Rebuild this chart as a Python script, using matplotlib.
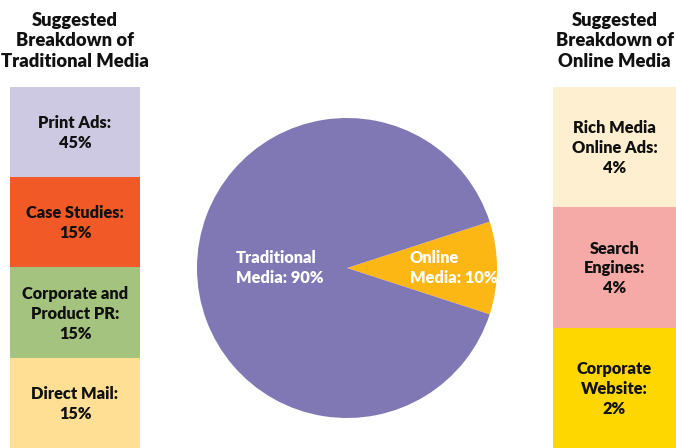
import matplotlib
matplotlib.use("Agg")
import matplotlib.pyplot as plt

# ---------------------------------------------------------------------------
# Data
# ---------------------------------------------------------------------------
split_labels = ["Online\nMedia: 10%", "Traditional\nMedia: 90%"]
split_values = [10, 90]
split_colors = ["#FDB714", "#8078B5"]

trad_labels = ["Print Ads:\n45%", "Case Studies:\n15%",
               "Corporate and\nProduct PR:\n15%", "Direct Mail:\n15%"]
trad_values = [45, 15, 15, 15]
trad_colors = ["#CDC9E3", "#F15A27", "#A3C37F", "#FEDF93"]

online_labels = ["Rich Media\nOnline Ads:\n4%", "Search\nEngines:\n4%",
                 "Corporate\nWebsite:\n2%"]
online_values = [4, 4, 2]
online_colors = ["#FEEFD1", "#F6AAA8", "#FED700"]

W, H = 676, 448
FONT = ["Lato", "DejaVu Sans"]
LABEL_SIZE = 11.8

fig = plt.figure(figsize=(W / 100, H / 100), dpi=100)
ax = fig.add_axes([0, 0, 1, 1])


def breakdown_column(x0, x1, labels, values, colors, title):
    """Stack of equal-size cells, one per category, with a title above."""
    top, bottom = 87, H
    cell = (bottom - top) / len(values)
    bottoms = [top + i * cell for i in range(len(values))]
    ax.bar([(x0 + x1) / 2] * len(values), [cell] * len(values), width=x1 - x0,
           bottom=bottoms, color=colors, edgecolor="none", linewidth=0)
    for b, lab in zip(bottoms, labels):
        ax.text((x0 + x1) / 2, b + cell / 2 + 1, lab, ha="center", va="center",
                fontsize=LABEL_SIZE, fontweight="heavy", family=FONT,
                linespacing=1.3, color="#111111")
    ax.text((x0 + x1) / 2, 41, title, ha="center", va="center",
            fontsize=13.2, fontweight="heavy", family=FONT, linespacing=1.22,
            color="#111111")


breakdown_column(10, 140, trad_labels, trad_values, trad_colors,
                 "Suggested\nBreakdown of\nTraditional Media")
breakdown_column(553, 676, online_labels, online_values, online_colors,
                 "Suggested\nBreakdown of\nOnline Media")

# Pie of traditional vs online share, drawn in pixel coordinates
ax.pie(split_values, colors=split_colors, center=(347, 268), radius=150,
       startangle=-18, counterclock=True, frame=True,
       wedgeprops=dict(linewidth=0))

ax.text(236, 268, split_labels[1], ha="left", va="center", fontsize=LABEL_SIZE,
        fontweight="heavy", family=FONT, color="white", linespacing=1.3)
ax.text(410, 268, split_labels[0], ha="left", va="center", fontsize=LABEL_SIZE,
        fontweight="heavy", family=FONT, color="white", linespacing=1.3)

ax.set_xlim(0, W)
ax.set_ylim(H, 0)
ax.set_aspect("auto")
ax.axis("off")

fig.savefig("out.png", dpi=100)
